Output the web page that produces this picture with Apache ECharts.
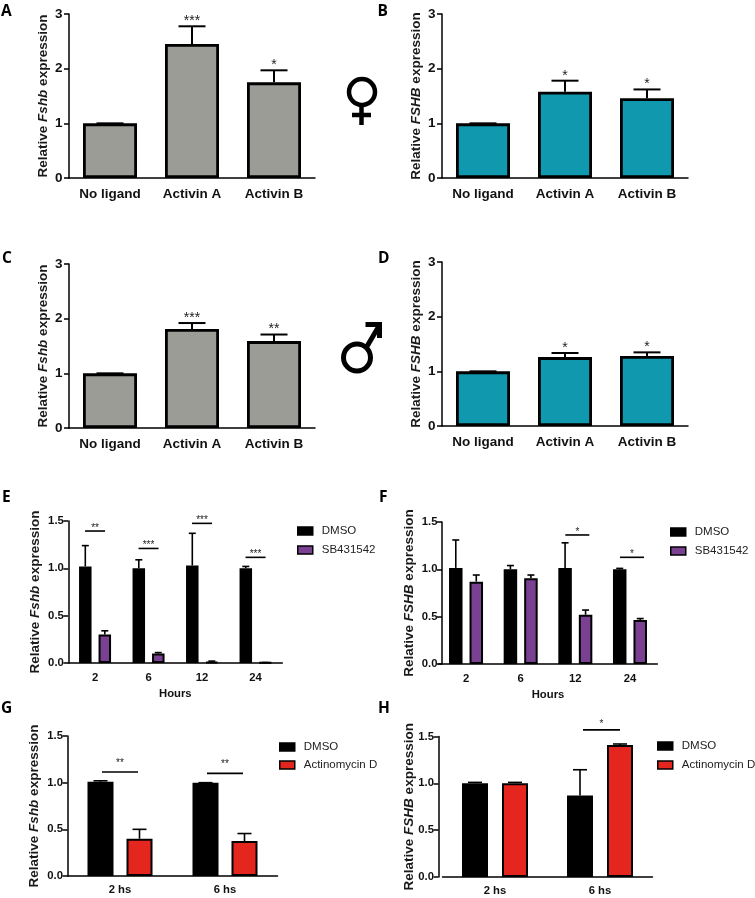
<!DOCTYPE html>
<html>
<head>
<meta charset="utf-8">
<style>html,body{margin:0;padding:0;background:#fff}#c{width:755px;height:898px}</style>
<script src="https://cdn.jsdelivr.net/npm/echarts@6/dist/echarts.min.js"></script>
</head>
<body>
<div id="c"></div>
<script>
// ---- data ----
const ligandCats = ['No ligand', 'Activin A', 'Activin B'];
const hourCats = ['2', '6', '12', '24'];
const hsCats = ['2 hs', '6 hs'];

const aValues = [1, 2.45, 1.75];
const aTops = [1, 2.775, 1.97];
const aStars = ['', '***', '*'];
const bValues = [1, 1.58, 1.46];
const bTops = [1, 1.78, 1.62];
const bStars = ['', '*', '*'];
const cValues = [1, 1.81, 1.59];
const cTops = [1, 1.92, 1.71];
const cStars = ['', '***', '**'];
const dValues = [1, 1.26, 1.28];
const dTops = [1, 1.335, 1.347];
const dStars = ['', '*', '*'];

const eDmso = [1.02, 1.0, 1.03, 1.0];
const eDmsoTops = [1.24, 1.09, 1.37, 1.02];
const eDrug = [0.30, 0.10, 0.01, 0.003];
const eDrugTops = [0.34, 0.11, 0.02, 0.005];
const eLevels = [1.394, 1.21, 1.475, 1.116];
const eStars = ['**', '***', '***', '***'];

const fDmso = [1.015, 1.0, 1.015, 1.0];
const fDmsoTops = [1.31, 1.04, 1.28, 1.01];
const fDrug = [0.87, 0.905, 0.52, 0.465];
const fDrugTops = [0.94, 0.94, 0.57, 0.48];
const fLevels = [null, null, 1.363, 1.127];
const fStars = ['', '', '*', '*'];

const gDmso = [1.01, 1.0];
const gDmsoTops = [1.02, 1.0];
const gDrug = [0.40, 0.375];
const gDrugTops = [0.50, 0.455];
const gLevels = [1.114, 1.10];
const gStars = ['**', '**'];

const hDmso = [1.0, 0.87];
const hDmsoTops = [1.01, 1.145];
const hDrug = [1.0, 1.41];
const hDrugTops = [1.01, 1.42];
const hLevels = [null, 1.571];
const hStars = ['', '*'];

const dmsoName = 'DMSO';
const sbName = 'SB431542';
const actName = 'Actinomycin D';

// ---- styles ----
const FONT = '"Liberation Sans", Arial, sans-serif';
const GREY = '#9b9c96', TEAL = '#1098ae', PURPLE = '#7a4192', RED = '#e5261f';

const option = { animation: false, backgroundColor: '#fff', grid: [], xAxis: [], yAxis: [], series: [], legend: [], graphic: [] };

function errRender(dx, cap, lw) {
  return (params, api) => {
    const a = api.coord([api.value(0), api.value(1)]);
    const b = api.coord([api.value(0), api.value(2)]);
    const x = a[0] + dx;
    const style = { stroke: '#000', lineWidth: lw, fill: null };
    return { type: 'group', children: [
      { type: 'line', shape: { x1: x, y1: a[1], x2: x, y2: b[1] }, style },
      { type: 'line', shape: { x1: x - cap / 2, y1: b[1], x2: x + cap / 2, y2: b[1] }, style }
    ]};
  };
}

function sigRender(p) {
  return (params, api) => {
    const c = api.coord([api.value(0), api.value(1)]);
    const text = p.sigStars[params.dataIndex];
    const x = c[0] + (p.sigDx || 0);
    const ch = [{ type: 'text', silent: true, style: {
      x, y: c[1] - p.starGap, text, fill: '#222', align: 'center', verticalAlign: 'middle',
      font: p.starSize + 'px ' + FONT } }];
    if (p.sigHalf && text) ch.push({ type: 'line', shape: { x1: x - p.sigHalf, y1: c[1], x2: x + p.sigHalf, y2: c[1] },
      style: { stroke: '#000', lineWidth: 1.6 } });
    return { type: 'group', children: ch };
  };
}

function panel(p) {
  const i = option.grid.length;
  option.grid.push({ left: p.left, top: p.top, width: p.width, height: p.height, containLabel: false });
  option.xAxis.push({
    gridIndex: i, type: 'category', data: p.cats,
    name: p.xName || '', nameLocation: 'middle', nameGap: 25, nameMoveOverlap: false,
    nameTextStyle: { fontFamily: FONT, fontWeight: 'bold', fontSize: p.tickSize, color: '#111' },
    axisLine: { lineStyle: { color: '#000', width: 1.5 } },
    axisTick: { alignWithLabel: true, length: 5, lineStyle: { color: '#000', width: 1.5 } },
    axisLabel: { fontFamily: FONT, fontWeight: 'bold', fontSize: p.tickSize, color: '#111', margin: p.xMargin, interval: 0 }
  });
  option.yAxis.push({
    gridIndex: i, type: 'value', min: 0, max: p.max, interval: p.step, offset: p.yOffset || 0,
    name: 'Relative {i|' + p.gene + '} expression', nameLocation: 'middle', nameGap: p.nameGap, nameRotate: 90,
    nameMoveOverlap: false,
    nameTextStyle: { fontFamily: FONT, fontWeight: 'bold', fontSize: p.nameSize, color: '#1a1a1a',
      rich: { i: { fontFamily: FONT, fontStyle: 'italic', fontWeight: 'bold', fontSize: p.nameSize, color: '#1a1a1a' } } },
    splitLine: { show: false },
    axisLine: { show: true, onZero: false, lineStyle: { color: '#000', width: 1.5 } },
    axisTick: { show: true, length: 5, lineStyle: { color: '#000', width: 1.5 } },
    axisLabel: { fontFamily: FONT, fontWeight: 'bold', fontSize: p.tickSize, color: '#111', margin: p.yMargin,
      formatter: v => v.toFixed(p.digits) }
  });
  const gapPct = ((p.sep - p.barW) / p.barW * 100) + '%';
  p.bars.forEach(b => {
    option.series.push({
      type: 'bar', name: b.name, xAxisIndex: i, yAxisIndex: i, data: b.values,
      barWidth: p.barW, barGap: gapPct, z: 3,
      itemStyle: { color: b.color, borderColor: '#000', borderWidth: p.border },
      emphasis: { disabled: true }
    });
  });
  const nb = p.bars.length;
  p.bars.forEach((b, k) => {
    const dx = nb === 1 ? 0 : (k === 0 ? -p.sep / 2 : p.sep / 2);
    option.series.push({
      type: 'custom', xAxisIndex: i, yAxisIndex: i, z: 2, silent: true,
      renderItem: errRender(dx, p.cap, p.errW),
      encode: { x: 0, y: 2 },
      data: b.values.map((v, n) => [n, v, b.tops[n]])
    });
  });
  option.series.push({
    type: 'custom', xAxisIndex: i, yAxisIndex: i, z: 4, silent: true, clip: false,
    renderItem: sigRender(p), encode: { x: 0, y: 1 },
    data: p.sigLevels.map((v, n) => [n, v == null ? 0 : v])
  });
  if (p.legend) option.legend.push({
    left: p.legend.left, top: p.legend.top, orient: 'vertical', selectedMode: false, padding: 0,
    data: p.bars.map(b => ({ name: b.name, icon: 'rect' })),
    itemWidth: 15, itemHeight: 8, itemGap: p.legend.gap,
    itemStyle: { borderColor: '#000', borderWidth: 1.5 },
    textStyle: { fontFamily: FONT, fontSize: 11.5, color: '#222', padding: [0, 0, 0, 4] }
  });
}

const big = { cats: ligandCats, max: 3, step: 1, digits: 0, barW: 54, sep: 0, border: 2.8, errW: 2, cap: 27,
  tickSize: 13.5, nameSize: 13.5, xMargin: 9, yMargin: 6.5, starGap: 5, starSize: 14 };
const small = { max: 1.5, step: 0.5, digits: 1, border: 2, errW: 1.6, tickSize: 11.3, nameSize: 13.5,
  xMargin: 9, yMargin: 4.5, starGap: 3, starSize: 10 };

panel({ ...big, left: 69, top: 14, width: 246, height: 164, gene: 'Fshb', nameGap: 19,
  bars: [{ name: 'a', values: aValues, tops: aTops, color: GREY }], sigLevels: aTops, sigStars: aStars });
panel({ ...big, left: 442, top: 14, width: 246, height: 164, gene: 'FSHB', nameGap: 19,
  bars: [{ name: 'b', values: bValues, tops: bTops, color: TEAL }], sigLevels: bTops, sigStars: bStars });
panel({ ...big, left: 69, top: 264, width: 246, height: 164, gene: 'Fshb', nameGap: 19,
  bars: [{ name: 'c', values: cValues, tops: cTops, color: GREY }], sigLevels: cTops, sigStars: cStars });
panel({ ...big, left: 442, top: 262, width: 246, height: 164, gene: 'FSHB', nameGap: 19,
  bars: [{ name: 'd', values: dValues, tops: dTops, color: TEAL }], sigLevels: dTops, sigStars: dStars });

panel({ ...small, cats: hourCats, left: 68.3, top: 521, width: 214, height: 142, gene: 'Fshb', nameGap: 26, xName: 'Hours',
  barW: 12.5, sep: 19.5, cap: 7, sigHalf: 10, sigLevels: eLevels, sigStars: eStars, legend: { left: 297, top: 525, gap: 7 },
  bars: [{ name: dmsoName, values: eDmso, tops: eDmsoTops, color: '#000' }, { name: sbName, values: eDrug, tops: eDrugTops, color: PURPLE }] });
panel({ ...small, cats: hourCats, left: 438.7, top: 522, width: 218.6, height: 142, yOffset: -3.3, gene: 'FSHB', nameGap: 26, xName: 'Hours',
  barW: 13.5, sep: 20.5, cap: 7, sigHalf: 12, sigDx: 2, sigLevels: fLevels, sigStars: fStars, legend: { left: 670, top: 526, gap: 7 },
  bars: [{ name: dmsoName, values: fDmso, tops: fDmsoTops, color: '#000' }, { name: sbName, values: fDrug, tops: fDrugTops, color: PURPLE }] });
panel({ ...small, cats: hsCats, left: 67.5, top: 736, width: 210, height: 140, gene: 'Fshb', nameGap: 26, xMargin: 8,
  barW: 26, sep: 39, cap: 14, sigHalf: 18, sigLevels: gLevels, sigStars: gStars, starGap: 9, legend: { left: 279, top: 741, gap: 6 },
  bars: [{ name: dmsoName, values: gDmso, tops: gDmsoTops, color: '#000' }, { name: actName, values: gDrug, tops: gDrugTops, color: RED }] });
panel({ ...small, cats: hsCats, left: 442.5, top: 736.5, width: 210, height: 140.5, yOffset: 4, gene: 'FSHB', nameGap: 22, xMargin: 8,
  barW: 26, sep: 40, cap: 14, sigHalf: 18.5, sigDx: 1.5, sigLevels: hLevels, sigStars: hStars, starGap: 6, legend: { left: 657, top: 740, gap: 7 },
  bars: [{ name: dmsoName, values: hDmso, tops: hDmsoTops, color: '#000' }, { name: actName, values: hDrug, tops: hDrugTops, color: RED }] });

// panel letters
const letters = [['A', 1, 11.5], ['B', 377.5, 11.5], ['C', 2, 259], ['D', 378, 259], ['E', 2, 497.5], ['F', 379, 497.5], ['G', 1, 709], ['H', 378, 709]];
letters.forEach(l => option.graphic.push({ type: 'text', silent: true, x: l[1], y: l[2],
  style: { text: l[0], fill: '#000', font: 'bold 15.5px "Open Sans", sans-serif', verticalAlign: 'middle', align: 'left' } }));

// sex symbols
const sym = { stroke: '#000', lineWidth: 4.5, fill: null };
option.graphic.push(
  { type: 'circle', silent: true, shape: { cx: 362, cy: 92, r: 13 }, style: sym },
  { type: 'line', silent: true, shape: { x1: 361.5, y1: 105, x2: 361.5, y2: 125 }, style: sym },
  { type: 'line', silent: true, shape: { x1: 352, y1: 115, x2: 371, y2: 115 }, style: sym },
  { type: 'circle', silent: true, shape: { cx: 357, cy: 357.5, r: 13.5 }, style: { stroke: '#000', lineWidth: 5, fill: null } },
  { type: 'line', silent: true, shape: { x1: 366, y1: 348, x2: 379, y2: 326 }, style: { stroke: '#000', lineWidth: 5 } },
  { type: 'polyline', silent: true, shape: { points: [[365.5, 324.5], [379.5, 324.5], [379.5, 338]] }, style: { stroke: '#000', lineWidth: 5, fill: null } }
);

const chart = echarts.init(document.getElementById('c'), null, { renderer: 'canvas', width: 755, height: 898 });
chart.setOption(option);
</script>
</body>
</html>
